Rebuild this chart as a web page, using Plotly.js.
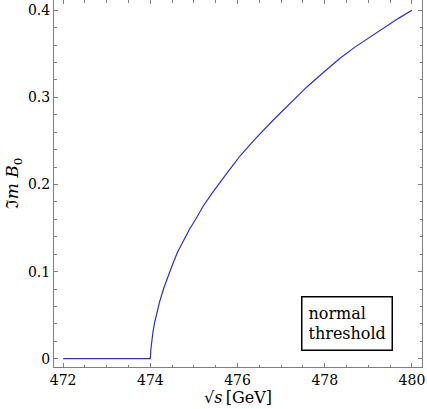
<!DOCTYPE html>
<html>
<head>
<meta charset="utf-8">
<script src="https://cdn.plot.ly/plotly-3.0.1.min.js"></script>
<style>html,body{margin:0;padding:0;background:#fff}#chart{width:427px;height:409px}</style>
</head>
<body>
<div id="chart"></div>
<script>
// sqrt(s) in GeV
const sqrtS = [472, 473, 474.0, 474.01, 474.03, 474.06, 474.10, 474.15, 474.21, 474.30, 474.40, 474.50, 474.62, 474.76, 474.90, 475.05, 475.21, 475.40, 475.60, 475.80, 476.06, 476.40, 476.82, 477.20, 477.59, 478.00, 478.35, 478.70, 479.12, 479.40, 479.70, 480];
// Im B0
const imB0 = [0, 0, 0, 0.010, 0.020, 0.031, 0.042, 0.053, 0.065, 0.080, 0.094, 0.107, 0.122, 0.136, 0.149, 0.161, 0.175, 0.189, 0.203, 0.216, 0.233, 0.252, 0.274, 0.293, 0.312, 0.330, 0.345, 0.358, 0.372, 0.381, 0.391, 0.400];
const xTicks = [472, 474, 476, 478, 480];
const yTicks = [0, 0.1, 0.2, 0.3, 0.4];
const yTickText = ["0", "0.1", "0.2", "0.3", "0.4"];
const boxText = "normal<br>threshold";

const fontFam = "DejaVu Serif";
const axisCol = "#808080";

Plotly.newPlot("chart", [{
  x: sqrtS, y: imB0, type: "scatter", mode: "lines",
  line: {color: "#2e2ed4", width: 1.2}, hoverinfo: "skip"
}], {
  width: 427, height: 409,
  margin: {l: 54, r: 5, t: 0, b: 42},
  paper_bgcolor: "#fff", plot_bgcolor: "#fff",
  showlegend: false,
  font: {family: fontFam, color: "#000", size: 14},
  xaxis: {
    range: [471.79, 480.23], tickvals: xTicks, ticktext: xTicks.map(String),
    ticks: "inside", ticklen: 4, tickcolor: axisCol, tickwidth: 1,
    showline: true, linecolor: axisCol, linewidth: 1, mirror: "allticks",
    showgrid: false, zeroline: false,
    minor: {dtick: 0.5, ticks: "inside", ticklen: 2.5, tickcolor: axisCol, showgrid: false},
    tickfont: {family: fontFam, size: 14, color: "#000"},
    title: {text: "√<i>s</i>\u2009[GeV]", font: {family: fontFam, size: 16, color: "#000"}, standoff: 4}
  },
  yaxis: {
    range: [-0.0095, 0.4118], tickvals: yTicks, ticktext: yTickText,
    ticks: "inside", ticklen: 4, tickcolor: axisCol, tickwidth: 1,
    showline: true, linecolor: axisCol, linewidth: 1, mirror: "allticks",
    showgrid: false, zeroline: false,
    minor: {dtick: 0.02, ticks: "inside", ticklen: 2.5, tickcolor: axisCol, showgrid: false},
    tickfont: {family: fontFam, size: 14, color: "#000"},
    title: {text: "ℑ<i>m B</i><sub>0</sub>", font: {family: fontFam, size: 17, color: "#000"}, standoff: 4}
  },
  annotations: [{
    xref: "paper", yref: "paper", x: 0.795, y: 0.1185,
    xanchor: "center", yanchor: "middle", showarrow: false,
    text: boxText, align: "left",
    font: {family: fontFam, size: 16, color: "#000"},
    bordercolor: "#000", borderwidth: 1.5, borderpad: 6, bgcolor: "#fff"
  }]
}, {staticPlot: true, displayModeBar: false});
</script>
</body>
</html>
